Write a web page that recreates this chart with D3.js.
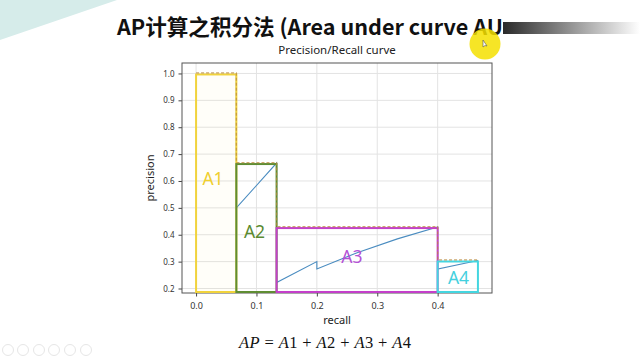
<!DOCTYPE html>
<html><head><meta charset="utf-8">
<script src="https://cdn.jsdelivr.net/npm/d3@7"></script>
<style>
html,body{margin:0;padding:0;background:#fff;}
svg{display:block;}
</style></head>
<body>
<svg id="c" width="640" height="360"></svg>
<script>
// ---- data ----
const curveRecall    = [0.0667, 0.0667, 0.1333, 0.1333, 0.2, 0.2, 0.2667, 0.3333, 0.4, 0.4, 0.4667];
const curvePrecision = [1.0, 0.5, 0.6667, 0.2222, 0.3, 0.2727, 0.3333, 0.3846, 0.4286, 0.2727, 0.3043];
const areaNames      = ["A1", "A2", "A3", "A4"];
const areaStart      = [0.0, 0.0667, 0.1333, 0.4];
const areaEnd        = [0.0667, 0.1333, 0.4, 0.4667];
const areaPrecision  = [1.0, 0.6667, 0.4286, 0.3043];
const xTicks = [0.0, 0.1, 0.2, 0.3, 0.4];
const yTicks = [0.2, 0.3, 0.4, 0.5, 0.6, 0.7, 0.8, 0.9, 1.0];
const titleText = "AP计算之积分法 (Area under curve AUC)";
const chartTitle = "Precision/Recall curve";
const xLabel = "recall", yLabel = "precision";

// ---- styles ----
const areaColors = ["#f1d33c", "#5f8d33", "#c43fca", "#44d6e0"];
const labelColors = ["#f0cf2e", "#5a8a30", "#b452d6", "#44d0de"];

const svg = d3.select("#c");

// decorative slide background
svg.append("path").attr("d", "M0,0 L117,0 L0,40 Z").attr("fill", "#d6ecea");

// slide title (fit so that "...AU" ends under the watermark bar)
const title = svg.append("text").attr("x", 117).attr("y", 35)
  .attr("font-family", "'Noto Sans CJK SC', 'Noto Sans', sans-serif")
  .attr("font-weight", "bold").attr("font-size", 21).attr("fill", "#111")
  .text(titleText);
{
  const n = titleText.indexOf("AUC") + 2;
  const w = title.node().getSubStringLength(0, n);
  title.attr("font-size", 21 * 386 / w);
}

// plot geometry
const L = 182, R = 492, T = 63, B = 293;
const xMin = -0.0233, xMax = 0.49, yMin = 0.1833, yMax = 1.0389;
const x = d3.scaleLinear().domain([xMin, xMax]).range([L, R]);
const y = d3.scaleLinear().domain([yMin, yMax]).range([B, T]);

// chart title
svg.append("text").attr("x", (L + R) / 2).attr("y", 54).attr("text-anchor", "middle")
  .attr("font-family", "'Noto Sans', sans-serif").attr("font-size", 11.5).attr("fill", "#222")
  .text(chartTitle);

// grid
const g = svg.append("g");
g.selectAll(".gx").data(xTicks).join("line")
  .attr("x1", d => x(d)).attr("x2", d => x(d)).attr("y1", T).attr("y2", B)
  .attr("stroke", "#e3e3e3").attr("stroke-width", 1);
g.selectAll(".gy").data(yTicks).join("line")
  .attr("y1", d => y(d)).attr("y2", d => y(d)).attr("x1", L).attr("x2", R)
  .attr("stroke", "#e3e3e3").attr("stroke-width", 1);

// axes
const xAxis = svg.append("g").attr("transform", `translate(0,${B})`)
  .call(d3.axisBottom(x).tickValues(xTicks).tickFormat(d3.format(".1f")).tickSize(3.5).tickPadding(6));
const yAxis = svg.append("g").attr("transform", `translate(${L},0)`)
  .call(d3.axisLeft(y).tickValues(yTicks).tickFormat(d3.format(".1f")).tickSize(3.5).tickPadding(4));
[xAxis, yAxis].forEach(a => {
  a.select(".domain").remove();
  a.selectAll("line").attr("stroke", "#444");
  a.selectAll("text").attr("font-family", "'Noto Sans', sans-serif").attr("fill", "#333");
});
xAxis.selectAll("text").attr("font-size", 9);
yAxis.selectAll("text").attr("font-size", 8);

// frame
svg.append("rect").attr("x", L).attr("y", T).attr("width", R - L).attr("height", B - T)
  .attr("fill", "none").attr("stroke", "#555").attr("stroke-width", 1);

// axis labels
svg.append("text").attr("x", (L + R) / 2).attr("y", 324).attr("text-anchor", "middle")
  .attr("font-family", "'Noto Sans', sans-serif").attr("font-size", 11).attr("fill", "#222").text(xLabel);
svg.append("text").attr("transform", `translate(154,${(T + B) / 2}) rotate(-90)`).attr("text-anchor", "middle")
  .attr("font-family", "'Noto Sans', sans-serif").attr("font-size", 11).attr("fill", "#222").text(yLabel);

// PR curve (under the area boxes)
const pts = curveRecall.map((r, i) => [r, curvePrecision[i]]);
svg.append("path").attr("d", d3.line().x(d => x(d[0])).y(d => y(d[1]))(pts))
  .attr("fill", "none").attr("stroke", "#4a8cc0").attr("stroke-width", 1.1);

// area rectangles
const areas = areaNames.map((n, i) => ({n, s: areaStart[i], e: areaEnd[i], p: areaPrecision[i], c: areaColors[i], lc: labelColors[i]}));
svg.selectAll(".area").data(areas).join("rect")
  .attr("x", d => x(d.s)).attr("y", d => y(d.p) + 1)
  .attr("width", d => x(d.e) - x(d.s)).attr("height", d => B - 1 - (y(d.p) + 1))
  .attr("fill", d => d.c).attr("fill-opacity", (d, i) => i === 0 ? 0.03 : 0.0)
  .attr("stroke", d => d.c).attr("stroke-width", 2);

// interpolated precision (dashed step)
const stepPts = [];
areas.forEach(d => { stepPts.push([d.s, d.p]); stepPts.push([d.e, d.p]); });
svg.append("path").attr("d", d3.line().x(d => x(d[0])).y(d => y(d[1]) - 0.5)(stepPts))
  .attr("fill", "none").attr("stroke", "#b98a3e").attr("stroke-opacity", 0.75)
  .attr("stroke-width", 1.2).attr("stroke-dasharray", "3,2");

// area labels
const labelPos = [[0.028, 0.585], [0.0968, 0.388], [0.258, 0.295], [0.4346, 0.217]];
svg.selectAll(".al").data(areas).join("text")
  .attr("x", (d, i) => x(labelPos[i][0])).attr("y", (d, i) => y(labelPos[i][1]))
  .attr("text-anchor", "middle").attr("font-family", "'Noto Sans', sans-serif")
  .attr("font-size", 17.5).attr("fill", d => d.lc).text(d => d.n);

// formula
const f = svg.append("text").attr("x", 325).attr("y", 348).attr("text-anchor", "middle")
  .attr("font-family", "'Liberation Serif', serif").attr("font-size", 16.5).attr("fill", "#111")
  .attr("textLength", 172).attr("lengthAdjust", "spacing");
const parts = [["AP", true], [" = ", false], ["A", true], ["1", false], [" + ", false], ["A", true], ["2", false],
  [" + ", false], ["A", true], ["3", false], [" + ", false], ["A", true], ["4", false]];
parts.forEach(p => f.append("tspan").attr("font-style", p[1] ? "italic" : "normal").text(p[0]));

// watermark bar over title end
const grad = svg.append("defs").append("linearGradient").attr("id", "wm");
grad.append("stop").attr("offset", "0%").attr("stop-color", "#2a2a2a");
grad.append("stop").attr("offset", "45%").attr("stop-color", "#8a8a8a");
grad.append("stop").attr("offset", "100%").attr("stop-color", "#ffffff");
svg.append("rect").attr("x", 503).attr("y", 10).attr("width", 137).attr("height", 34).attr("fill", "#fff");
svg.append("rect").attr("x", 503).attr("y", 22).attr("width", 137).attr("height", 12).attr("fill", "url(#wm)");

// cursor highlight
svg.append("circle").attr("cx", 485).attr("cy", 44).attr("r", 15.5).attr("fill", "#f5e000").attr("fill-opacity", 0.85);
svg.append("path").attr("d", "M483,40 L483,47 L485,45.5 L487,46 Z").attr("fill", "#fff").attr("stroke", "#555").attr("stroke-width", 0.6);

// bottom toolbar icons
const icons = [8, 23, 39, 54, 70, 86];
svg.selectAll(".ic").data(icons).join("circle")
  .attr("cx", d => d).attr("cy", 350).attr("r", 5.5)
  .attr("fill", "none").attr("stroke", "#e6e6e6").attr("stroke-width", 1);
</script>
</body></html>
